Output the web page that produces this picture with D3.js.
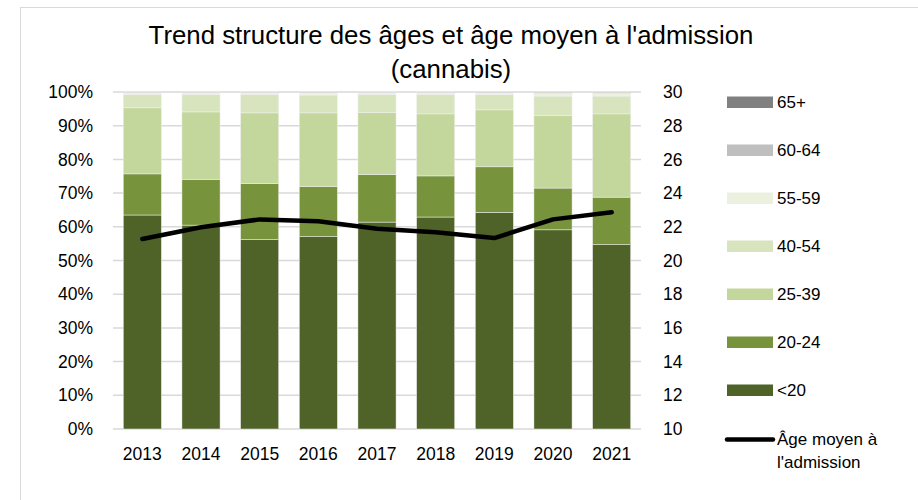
<!DOCTYPE html>
<html>
<head>
<meta charset="utf-8">
<script src="https://cdn.jsdelivr.net/npm/d3@7"></script>
<style>
    body { margin: 0; background: #fff; }
    text { font-family: "Liberation Sans", Arial, sans-serif; fill: #000; }
</style>
</head>
<body>
<div id="chart"></div>
<script>
'use strict';

// years on the x axis
let years = ['2013', '2014', '2015', '2016', '2017', '2018', '2019', '2020', '2021'];

// age groups, bottom to top of each bar
let ageGroups = ['<20', '20-24', '25-39', '40-54', '55-59', '60-64', '65+'];

// share of admissions (%) per age group, one value per year
let under20 = [63.5, 60.5, 56.2, 57.1, 61.4, 62.9, 64.3, 59.1, 54.7];
let age20to24 = [12.2, 13.6, 16.6, 14.8, 14.1, 12.2, 13.5, 12.4, 14.1];
let age25to39 = [19.6, 20.0, 21.0, 21.9, 18.4, 18.4, 16.9, 21.5, 24.7];
let age40to54 = [4.0, 5.2, 5.5, 5.3, 5.4, 5.8, 4.6, 5.8, 5.3];
let age55to59 = [0.5, 0.5, 0.5, 0.6, 0.5, 0.5, 0.4, 0.8, 0.8];
let age60to64 = [0.15, 0.15, 0.15, 0.2, 0.15, 0.15, 0.2, 0.3, 0.3];
let age65plus = [0.05, 0.05, 0.05, 0.1, 0.05, 0.05, 0.1, 0.1, 0.1];

// mean age at admission (right axis)
let meanAge = [21.28, 21.97, 22.44, 22.33, 21.89, 21.67, 21.33, 22.44, 22.86];

let leftTicks = [0, 10, 20, 30, 40, 50, 60, 70, 80, 90, 100];
let rightTicks = [10, 12, 14, 16, 18, 20, 22, 24, 26, 28, 30];

let colors = ['#4f6228', '#77933c', '#c3d69b', '#d7e4bd', '#ebf1de', '#bfbfbf', '#808080'];

let series = [under20, age20to24, age25to39, age40to54, age55to59, age60to64, age65plus];

let width = 918,
    height = 500;
let margin = {top: 92, left: 113, right: 277, bottom: 71};

let svg = d3.select('#chart')
    .append('svg')
    .attr('width', width)
    .attr('height', height);

// chart frame
svg.append('rect')
    .attr('x', 20.5)
    .attr('y', 7.5)
    .attr('width', 940)
    .attr('height', 520)
    .attr('fill', '#fff')
    .attr('stroke', '#d9d9d9')
    .attr('stroke-width', 1);

let x = d3.scaleBand()
    .domain(years)
    .range([margin.left, width - margin.right])
    .paddingInner(0.35)
    .paddingOuter(0.175);

let y = d3.scaleLinear()
    .domain([0, 100])
    .range([height - margin.bottom, margin.top]);

let y2 = d3.scaleLinear()
    .domain([10, 30])
    .range([height - margin.bottom, margin.top]);

// gridlines
svg.append('g')
    .selectAll('line')
    .data(leftTicks)
    .enter().append('line')
    .attr('x1', margin.left)
    .attr('x2', width - margin.right)
    .attr('y1', function(d) {
        return y(d);
    })
    .attr('y2', function(d) {
        return y(d);
    })
    .attr('stroke', '#d9d9d9')
    .attr('stroke-width', 1.5);

// stacked bars
let table = years.map(function(yr, i) {
    let row = {year: yr};
    ageGroups.forEach(function(g, k) {
        row[g] = series[k][i];
    });
    return row;
});
let stacked = d3.stack().keys(ageGroups)(table);

svg.append('g')
    .selectAll('g')
    .data(stacked)
    .enter().append('g')
    .attr('fill', function(d, i) {
        return colors[i];
    })
    .selectAll('rect')
    .data(function(d) {
        return d;
    })
    .enter().append('rect')
    .attr('x', function(d) {
        return x(d.data.year);
    })
    .attr('width', x.bandwidth())
    .attr('y', function(d) {
        return y(d[1]);
    })
    .attr('height', function(d) {
        return Math.max(0, y(d[0]) - y(d[1]));
    })
    .attr('stroke', '#f2f2f2')
    .attr('stroke-width', 0.5);

// mean age line
let line = d3.line()
    .x(function(d, i) {
        return x(years[i]) + x.bandwidth() / 2;
    })
    .y(function(d) {
        return y2(d);
    });

svg.append('path')
    .datum(meanAge)
    .attr('d', line)
    .attr('fill', 'none')
    .attr('stroke', '#000')
    .attr('stroke-width', 4.5)
    .attr('stroke-linecap', 'round')
    .attr('stroke-linejoin', 'round');

// left axis
let leftAxis = d3.axisLeft(y)
    .tickValues(leftTicks)
    .tickSize(0)
    .tickPadding(20)
    .tickFormat(function(d) {
        return d + '%';
    });
let gl = svg.append('g')
    .attr('transform', 'translate(' + margin.left + ',0)')
    .call(leftAxis);
gl.select('.domain').remove();
gl.selectAll('text')
    .attr('font-family', '"Liberation Sans", Arial, sans-serif')
    .attr('font-size', 17.5)
    .attr('fill', '#000');

// right axis
let rightAxis = d3.axisRight(y2)
    .tickValues(rightTicks)
    .tickSize(0)
    .tickPadding(22);
let gr = svg.append('g')
    .attr('transform', 'translate(' + (width - margin.right) + ',0)')
    .call(rightAxis);
gr.select('.domain').remove();
gr.selectAll('text')
    .attr('font-family', '"Liberation Sans", Arial, sans-serif')
    .attr('font-size', 17.5)
    .attr('fill', '#000');

// bottom axis
let bottomAxis = d3.axisBottom(x)
    .tickSize(0)
    .tickPadding(19);
let gb = svg.append('g')
    .attr('transform', 'translate(0,' + (height - margin.bottom) + ')')
    .call(bottomAxis);
gb.select('.domain').remove();
gb.selectAll('text')
    .attr('font-family', '"Liberation Sans", Arial, sans-serif')
    .attr('font-size', 17.5)
    .attr('fill', '#000');

// title
let title = svg.append('text')
    .attr('text-anchor', 'middle')
    .attr('font-size', 25.8);
title.append('tspan')
    .attr('x', 451)
    .attr('y', 44)
    .text('Trend structure des âges et âge moyen à l\'admission');
title.append('tspan')
    .attr('x', 451)
    .attr('y', 78)
    .text('(cannabis)');

// legend, top to bottom
let legendItems = ageGroups.slice().reverse();
let legendColors = colors.slice().reverse();
let legend = svg.append('g');

legend.selectAll('rect')
    .data(legendItems)
    .enter().append('rect')
    .attr('x', 727)
    .attr('y', function(d, i) {
        return 96.5 + i * 48;
    })
    .attr('width', 46)
    .attr('height', 11.5)
    .attr('fill', function(d, i) {
        return legendColors[i];
    });

legend.selectAll('text')
    .data(legendItems)
    .enter().append('text')
    .attr('x', 777)
    .attr('y', function(d, i) {
        return 102.3 + i * 48;
    })
    .attr('dy', '0.35em')
    .attr('font-size', 17)
    .text(function(d) {
        return d;
    });

legend.append('line')
    .attr('x1', 727)
    .attr('x2', 773)
    .attr('y1', 439.5)
    .attr('y2', 439.5)
    .attr('stroke', '#000')
    .attr('stroke-width', 4.5)
    .attr('stroke-linecap', 'round');

let lt = legend.append('text')
    .attr('font-size', 17);
lt.append('tspan')
    .attr('x', 777)
    .attr('y', 445)
    .text('Âge moyen à');
lt.append('tspan')
    .attr('x', 777)
    .attr('y', 468)
    .text('l\'admission');
</script>
</body>
</html>
